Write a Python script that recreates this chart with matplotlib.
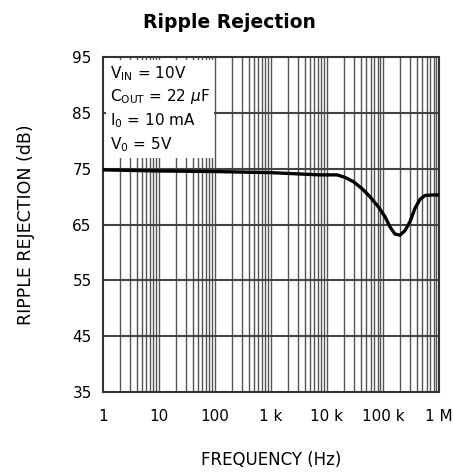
import matplotlib.pyplot as plt

freq = [1, 10, 100, 1000, 7500, 15100, 21000, 29500, 41700, 58600, 82400,
        109000, 133000, 164000, 201000, 247000, 304000, 373000, 458000,
        562000, 741000, 1000000]
rejection = [74.8, 74.6, 74.5, 74.3, 73.9, 73.9, 73.45, 72.7, 71.5, 70.0, 68.2,
             66.4, 64.6, 63.3, 63.1, 63.9, 65.5, 67.9, 69.5,
             70.2, 70.3, 70.3]

xticks = [1, 10, 100, 1e3, 1e4, 1e5, 1e6]
xticklabels = ["1", "10", "100", "1 k", "10 k", "100 k", "1 M"]
yticks = [35, 45, 55, 65, 75, 85, 95]

fig = plt.figure(figsize=(4.53, 4.72), dpi=100)
ax = fig.add_axes([0.227, 0.1695, 0.742, 0.7095])

# log grid: 2..10 per decade
for d in range(6):
    for m in range(2, 11):
        ax.axvline(m * 10**d, color="#555555", linewidth=1.0, zorder=1)
for y in yticks[1:-1]:
    ax.axhline(y, color="#444444", linewidth=1.5, zorder=1)

ax.plot(freq, rejection, color="black", linewidth=2.4, zorder=3,
        solid_joinstyle="round")

ax.set_xscale("log")
ax.set_xlim(1, 1e6)
ax.set_ylim(35, 95)
ax.set_xticks(xticks)
ax.set_xticklabels(xticklabels)
ax.set_xticks([], minor=True)
ax.set_yticks(yticks)
ax.tick_params(length=0, labelsize=11)
ax.tick_params(axis="x", pad=12)
ax.tick_params(axis="y", pad=8)
for s in ax.spines.values():
    s.set_color("#333333")
    s.set_linewidth(1.5)

ax.text(1.35, 93.8,
        "V$_{\\mathrm{IN}}$ = 10V\nC$_{\\mathrm{OUT}}$ = 22 $\\mu$F\n"
        "I$_{\\mathrm{0}}$ = 10 mA\nV$_{\\mathrm{0}}$ = 5V",
        fontsize=11, va="top", ha="left", linespacing=1.35, zorder=4,
        bbox=dict(facecolor="white", edgecolor="none", pad=3))

fig.text(0.506, 0.953, "Ripple Rejection", fontsize=13.5, fontweight="bold",
         ha="center", va="center")
ax.set_xlabel("FREQUENCY (Hz)", fontsize=12, labelpad=20)
ax.set_ylabel("RIPPLE REJECTION (dB)", fontsize=12.5, labelpad=27)

fig.savefig("out.png", dpi=100)
